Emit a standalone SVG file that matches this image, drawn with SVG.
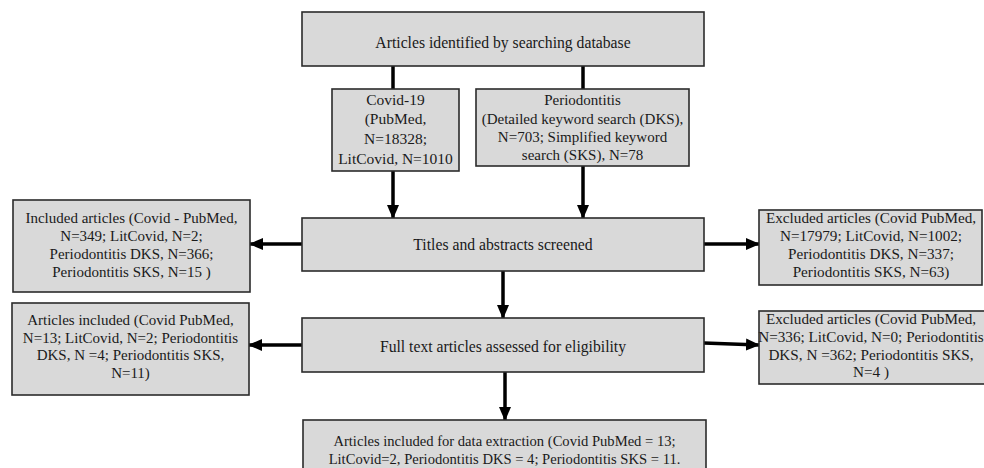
<svg xmlns="http://www.w3.org/2000/svg" width="984" height="468" viewBox="0 0 984 468">
<defs>
<marker id="ah" markerUnits="userSpaceOnUse" markerWidth="14" markerHeight="14" viewBox="0 0 14 14" refX="13" refY="7" orient="auto">
<path d="M0,1 L14,7 L0,13 Z" fill="#000"/>
</marker>
<style>
.box{fill:#d9d9d9;stroke:#2b2b2b;stroke-width:1.6}
.t{font-family:"Liberation Serif","Times New Roman",serif;font-size:15px;fill:#1a1a1a;text-anchor:middle}
.tb{font-size:15.7px}
.tr{font-size:15.2px}
.c{stroke:#000;stroke-width:3.5;fill:none}
.a{marker-end:url(#ah)}
</style>
</defs>
<rect width="984" height="468" fill="#fff"/>
<g id="connectors">
<line class="c" x1="393" y1="66" x2="393" y2="89"/>
<line class="c" x1="583" y1="66" x2="583" y2="89"/>
<line class="c a" x1="393" y1="171" x2="393" y2="218"/>
<line class="c a" x1="583" y1="166" x2="583" y2="218"/>
<line class="c a" x1="302" y1="244" x2="250" y2="244"/>
<line class="c a" x1="704" y1="244" x2="759" y2="244"/>
<line class="c a" x1="503" y1="271" x2="503" y2="318"/>
<line class="c a" x1="302" y1="345" x2="249" y2="345"/>
<line class="c a" x1="704" y1="343" x2="759" y2="345"/>
<line class="c a" x1="505" y1="372" x2="505" y2="420"/>
</g>
<g id="identified">
<rect class="box" x="302" y="12" width="402" height="54"/>
<text class="t tb" x="503" y="48">Articles identified by searching database</text>
</g>
<g id="covid">
<rect class="box" x="332" y="89" width="127" height="82"/>
<text class="t" x="395.5" y="105" style="font-size:15.5px">Covid-19</text>
<text class="t" x="395.5" y="124" style="font-size:15.5px">(PubMed,</text>
<text class="t" x="395.5" y="144" style="font-size:15.5px">N=18328;</text>
<text class="t" x="395.5" y="164" style="font-size:15.5px">LitCovid, N=1010</text>
</g>
<g id="periodontitis">
<rect class="box" x="476" y="89" width="213" height="77"/>
<text class="t" x="582.5" y="105">Periodontitis</text>
<text class="t" x="582.5" y="124">(Detailed keyword search (DKS),</text>
<text class="t" x="582.5" y="142">N=703; Simplified keyword</text>
<text class="t" x="582.5" y="160">search (SKS), N=78</text>
</g>
<g id="screened">
<rect class="box" x="302" y="218" width="402" height="53"/>
<text class="t tb" x="503" y="250">Titles and abstracts screened</text>
</g>
<g id="included1">
<rect class="box" x="13" y="200" width="237" height="92"/>
<text class="t" x="131.5" y="223">Included articles (Covid - PubMed,</text>
<text class="t" x="131.5" y="241">N=349;  LitCovid, N=2;</text>
<text class="t" x="131.5" y="259">Periodontitis DKS, N=366;</text>
<text class="t" x="131.5" y="277">Periodontitis SKS, N=15 )</text>
</g>
<g id="excluded1">
<rect class="box" x="759" y="210" width="223" height="75"/>
<text class="t tr" x="871" y="223">Excluded articles (Covid PubMed,</text>
<text class="t tr" x="871" y="241">N=17979; LitCovid, N=1002;</text>
<text class="t tr" x="871" y="259">Periodontitis DKS, N=337;</text>
<text class="t tr" x="871" y="277">Periodontitis SKS, N=63)</text>
</g>
<g id="fulltext">
<rect class="box" x="302" y="318" width="402" height="54"/>
<text class="t tb" x="503" y="352">Full text articles assessed for eligibility</text>
</g>
<g id="included2">
<rect class="box" x="12" y="303" width="237" height="92"/>
<text class="t" x="130.5" y="325">Articles included (Covid PubMed,</text>
<text class="t" x="130.5" y="343">N=13; LitCovid, N=2; Periodontitis</text>
<text class="t" x="130.5" y="360">DKS, N =4; Periodontitis SKS,</text>
<text class="t" x="130.5" y="378">N=11)</text>
</g>
<g id="excluded2">
<rect class="box" x="759" y="311" width="240" height="73"/>
<text class="t tr" x="871" y="324">Excluded articles (Covid PubMed,</text>
<text class="t tr" x="871" y="342">N=336; LitCovid, N=0; Periodontitis</text>
<text class="t tr" x="871" y="360">DKS, N =362; Periodontitis SKS,</text>
<text class="t tr" x="871" y="377">N=4 )</text>
</g>
<g id="extraction">
<rect class="box" x="303" y="420" width="403" height="60"/>
<text class="t" x="504.5" y="446" style="font-size:14.6px">Articles included for data extraction (Covid PubMed = 13;</text>
<text class="t" x="504.5" y="464" style="font-size:14.6px">LitCovid=2, Periodontitis DKS = 4; Periodontitis SKS = 11.</text>
</g>
</svg>
